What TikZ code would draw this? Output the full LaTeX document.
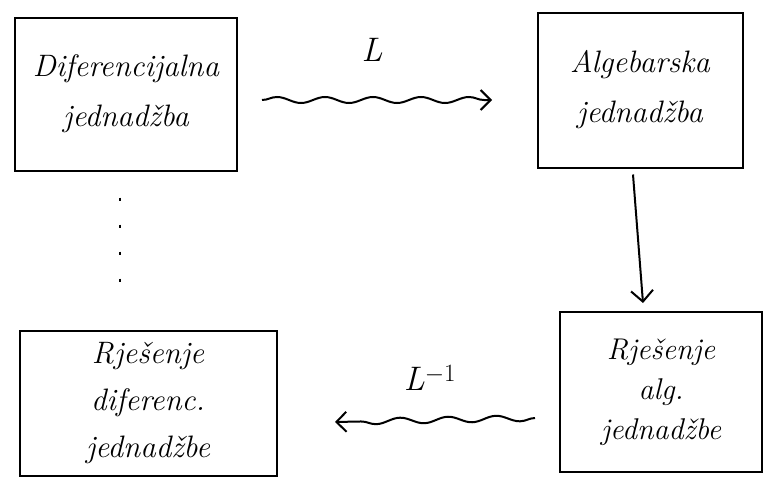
\documentclass[tikz,border=0pt]{standalone}
\usetikzlibrary{decorations.pathmorphing,arrows.meta}
\tikzset{
  box/.style={draw, line width=2pt, rectangle, inner sep=0pt, align=center,
    font=\fontsize{31}{50}\selectfont\itshape},
  wavy/.style={line width=2pt, decorate,
    decoration={snake, amplitude=3pt, segment length=48pt, post length=8pt},
    -{Straight Barb[length=10pt,width=20pt,line width=2pt]}},
  lbl/.style={font=\fontsize{34}{40}\selectfont\itshape}
}
\begin{document}
\begin{tikzpicture}[x=1pt,y=-1pt]
\useasboundingbox (0,0) rectangle (763,482);
\node[box, minimum width=222pt, minimum height=153pt] (b1) at (126,94)
  {Diferencijalna\\jednadžba};
\node[box, minimum width=205pt, minimum height=155pt] (b2) at (640,90)
  {Algebarska\\jednadžba};
\node[box, minimum width=257pt, minimum height=145pt,
  font=\fontsize{31}{47}\selectfont\itshape] (b3) at (148,403)
  {Rješenje\\diferenc.\\jednadžbe};
\node[box, minimum width=202pt, minimum height=160pt,
  font=\fontsize{30}{40}\selectfont\itshape] (b4) at (661,392)
  {Rješenje\\alg.\\jednadžbe};
\coordinate (a1) at (262,100);
\coordinate (a2) at (492,100);
\draw[wavy] (a1) -- (a2);
\node[lbl] (L) at (372,50) {L};
\coordinate (c1) at (535,418);
\coordinate (c2) at (335,422);
\draw[wavy] (c1) -- (c2);
\node[lbl] (Li) at (430,378) {L$^{-1}$};
\draw[line width=2pt, -{Straight Barb[length=11pt,width=22pt,line width=2pt]}]
  ([xshift=-7pt,yshift=-6pt]b2.south) -- ([xshift=-18pt,yshift=8pt]b4.north);
\draw[line width=2.5pt, dash pattern=on 3pt off 24pt]
  ([xshift=-6pt,yshift=-26pt]b1.south) -- ([xshift=-28pt,yshift=46pt]b3.north);
\end{tikzpicture}
\end{document}
